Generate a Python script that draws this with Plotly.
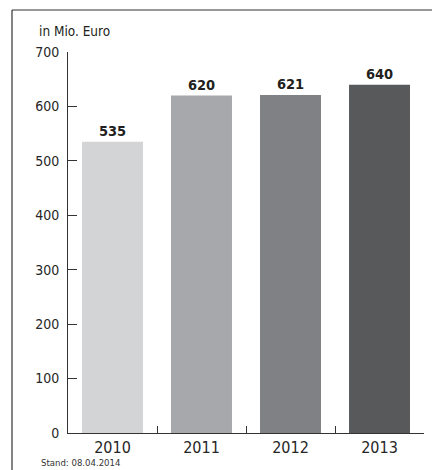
import plotly.graph_objects as go

years = ["2010", "2011", "2012", "2013"]
values = [535, 620, 621, 640]
colors = ["#d3d4d6", "#a7a8ab", "#808184", "#58595b"]
y_ticks = [0, 100, 200, 300, 400, 500, 600, 700]

FONT = "Liberation Sans Narrow, DejaVu Sans Condensed, Arial Narrow, sans-serif"

fig = go.Figure(go.Bar(
    x=years, y=values,
    marker=dict(color=colors, line=dict(width=0)),
    width=0.685,
    text=values,
    texttemplate="<b>%{y}</b>",
    textposition="outside",
    textfont=dict(family=FONT, size=14.5, color="#231f20"),
    cliponaxis=False,
))

fig.update_layout(
    width=432, height=470,
    margin=dict(l=68, r=8, t=52, b=37),
    paper_bgcolor="white", plot_bgcolor="white",
    showlegend=False,
    font=dict(family=FONT, color="#333333"),
    xaxis=dict(
        type="category", range=[-0.5, 3.5],
        showline=True, linecolor="#333333", linewidth=1,
        ticks="inside", ticklen=7, tickcolor="#333333", tickwidth=1,
        tickson="boundaries", showgrid=False,
        tickfont=dict(family=FONT, size=16, color="#262626"),
    ),
    yaxis=dict(
        range=[0, 700], tickvals=y_ticks,
        showline=True, linecolor="#333333", linewidth=1,
        ticks="inside", ticklen=9, tickcolor="#333333", tickwidth=1,
        showgrid=False, zeroline=False,
        ticklabelstandoff=5,
        tickfont=dict(family=FONT, size=14, color="#262626"),
    ),
    bargap=0.3,
)

# frame lines (left and top)
fig.add_shape(type="line", xref="paper", yref="paper",
              x0=-0.1573, x1=-0.1573, y0=1.1102, y1=-0.1, line=dict(color="#333333", width=1.2))
fig.add_shape(type="line", xref="paper", yref="paper",
              x0=-0.1573, x1=1.03, y0=1.1102, y1=1.1102, line=dict(color="#333333", width=1.2))

fig.add_annotation(text="in Mio. Euro", xref="paper", yref="paper",
                   x=-0.087, y=1.055, xanchor="left", yanchor="middle",
                   showarrow=False, font=dict(family=FONT, size=13.5, color="#231f20"))
fig.add_annotation(text="Stand: 08.04.2014", xref="paper", yref="paper",
                   x=-0.082, y=-0.0787, xanchor="left", yanchor="middle",
                   showarrow=False, font=dict(family=FONT, size=9.5, color="#333333"))

fig.write_html("out.html",
               config={"displayModeBar": False},
               post_script="document.body.style.margin='0';document.body.style.overflow='hidden';")
